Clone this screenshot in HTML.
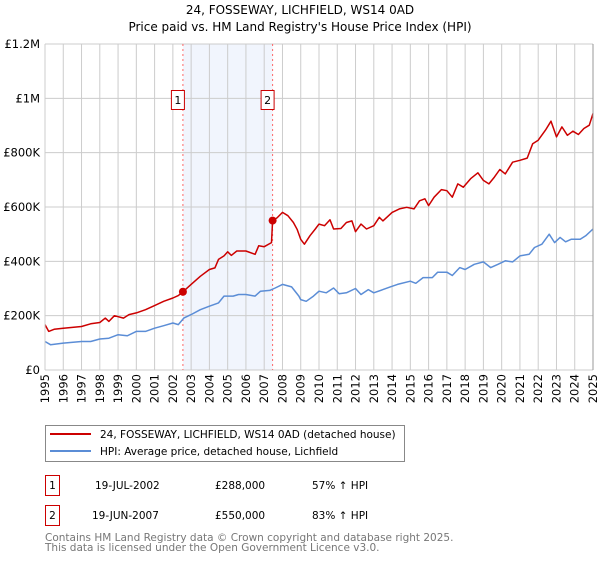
<!DOCTYPE html>
<html><head><meta charset="utf-8"><style>
body{margin:0;background:#fff;font-family:"Liberation Sans","DejaVu Sans",sans-serif;}
svg text{font-family:"DejaVu Sans","Liberation Sans",sans-serif;}
</style></head><body>
<svg id="chart" width="600" height="560" viewBox="0 0 600 560" xmlns="http://www.w3.org/2000/svg">
<text x="300" y="14" text-anchor="middle" font-size="12" fill="#000">24, FOSSEWAY, LICHFIELD, WS14 0AD</text>
<text x="300" y="31" text-anchor="middle" font-size="12" fill="#000">Price paid vs. HM Land Registry's House Price Index (HPI)</text>
<g id="grid"></g><g id="marks"></g><g id="axes"></g>
<g>
<rect x="45.5" y="425.5" width="359" height="36" fill="#fff" stroke="#888"/>
<line x1="50" y1="434" x2="91" y2="434" stroke="#cc0000" stroke-width="2"/>
<text x="100" y="438" font-size="10.5">24, FOSSEWAY, LICHFIELD, WS14 0AD (detached house)</text>
<line x1="50" y1="451" x2="91" y2="451" stroke="#5b8dd6" stroke-width="2"/>
<text x="100" y="455" font-size="10.5">HPI: Average price, detached house, Lichfield</text>
</g>
<g font-size="10.5">
<rect x="45.5" y="475.5" width="14" height="20" fill="#fff" stroke="#cc0000"/>
<text x="52.5" y="489" text-anchor="middle">1</text>
<text x="95" y="489">19-JUL-2002</text>
<text x="215" y="489">£288,000</text>
<text x="312" y="489">57% ↑ HPI</text>
<rect x="45.5" y="505.5" width="14" height="20" fill="#fff" stroke="#cc0000"/>
<text x="52.5" y="519" text-anchor="middle">2</text>
<text x="92" y="519">19-JUN-2007</text>
<text x="215" y="519">£550,000</text>
<text x="312" y="519">83% ↑ HPI</text>
</g>
<text x="45" y="541" font-size="10.5" fill="#777">Contains HM Land Registry data © Crown copyright and database right 2025.</text>
<text x="45" y="551" font-size="10.5" fill="#777">This data is licensed under the Open Government Licence v3.0.</text>
</svg>
<script>
const priceYears=[1995,1995.2,1995.5,1996,1997,1997.5,1998,1998.3,1998.5,1998.8,1999.3,1999.6,2000,2000.5,2001,2001.5,2002,2002.3,2002.55,2003,2003.5,2004,2004.3,2004.5,2004.8,2005,2005.2,2005.5,2006,2006.5,2006.7,2007,2007.4,2007.46,2007.7,2008,2008.3,2008.6,2008.8,2009,2009.2,2009.5,2009.8,2010,2010.3,2010.6,2010.8,2011.2,2011.5,2011.8,2012,2012.3,2012.6,2013,2013.3,2013.5,2014,2014.4,2014.8,2015.2,2015.5,2015.8,2016,2016.3,2016.7,2017,2017.3,2017.6,2017.9,2018.3,2018.7,2019,2019.3,2019.6,2019.9,2020.2,2020.6,2021,2021.4,2021.7,2022,2022.4,2022.7,2023,2023.3,2023.6,2023.9,2024.2,2024.5,2024.8,2025];
const priceValues=[167,142,150,154,160,170,175,191,179,200,191,204,210,222,237,253,265,274,288,315,345,370,376,407,420,435,422,438,438,426,457,454,469,550,560,580,568,543,518,481,463,494,519,537,531,553,519,521,543,549,509,537,519,531,562,549,580,593,599,593,623,630,605,636,664,660,636,685,673,704,726,698,685,710,738,722,765,772,780,833,846,883,916,858,895,864,879,867,889,901,944];
const hpiYears=[1995,1995.3,1996,1997,1997.5,1998,1998.5,1999,1999.5,2000,2000.5,2001,2001.5,2002,2002.3,2002.6,2003,2003.5,2004,2004.5,2004.8,2005.3,2005.6,2006,2006.5,2006.8,2007.3,2007.6,2008,2008.5,2008.9,2009,2009.3,2009.7,2010,2010.4,2010.8,2011.1,2011.5,2012,2012.3,2012.7,2013,2013.5,2013.9,2014.3,2015,2015.3,2015.7,2016.2,2016.5,2017,2017.3,2017.7,2018,2018.5,2019,2019.4,2019.8,2020.2,2020.6,2021,2021.5,2021.8,2022.2,2022.6,2022.9,2023.2,2023.5,2023.8,2024.3,2024.6,2025];
const hpiValues=[105,93,99,105,105,114,117,130,126,142,142,154,163,173,167,191,204,222,235,247,272,272,278,278,272,290,293,302,315,306,272,259,253,272,290,284,302,281,284,300,278,296,284,296,306,315,327,319,340,340,360,360,348,377,370,389,398,377,389,402,398,420,426,451,463,500,469,488,472,481,481,494,519];
const saleYears=[2002.55,2007.46];
const saleValues=[288,550];
const saleLabels=["1","2"];
const yTicks=[0,200,400,600,800,1000,1200];
const yTickLabels=["£0","£200K","£400K","£600K","£800K","£1M","£1.2M"];
const xTicks=[1995,1996,1997,1998,1999,2000,2001,2002,2003,2004,2005,2006,2007,2008,2009,2010,2011,2012,2013,2014,2015,2016,2017,2018,2019,2020,2021,2022,2023,2024,2025];

const L=45,R=593,T=44,B=370;
const xs=y=>L+(y-1995)/30*(R-L);
const ys=v=>B-v/1200*(B-T);
const NS="http://www.w3.org/2000/svg";
function mk(tag,attrs,parent){const e=document.createElementNS(NS,tag);for(const k in attrs)e.setAttribute(k,attrs[k]);parent.appendChild(e);return e;}
const grid=document.getElementById('grid'),marks=document.getElementById('marks'),axes=document.getElementById('axes');
// shaded band
const band=mk('rect',{x:xs(saleYears[0]),y:T,width:xs(saleYears[1])-xs(saleYears[0]),height:B-T,fill:'#eef3fc',opacity:'0.8'},grid);


xTicks.forEach(t=>{const l=mk('line',{x1:xs(t),x2:xs(t),y1:T,y2:B,stroke:'#cccccc','stroke-width':1},grid);


const tx=mk('text',{x:0,y:0,'font-size':'11.5','text-anchor':'end',transform:`translate(${xs(t)+4},${B+4}) rotate(-90)`},axes);tx.textContent=t;

});
yTicks.forEach((t,i)=>{const l=mk('line',{x1:L,x2:R,y1:ys(t),y2:ys(t),stroke:'#cccccc','stroke-width':1},grid);


const tx=mk('text',{x:L-5,y:ys(t)+4,'font-size':'11.5','text-anchor':'end'},axes);tx.textContent=yTickLabels[i];

});
saleYears.forEach((y,i)=>{const l=mk('line',{x1:xs(y),x2:xs(y),y1:T,y2:B,stroke:'#ff6666','stroke-width':1,'stroke-dasharray':'2,3'},marks);


const r=mk('rect',{x:xs(y)-11.5,y:90.5,width:13,height:19,fill:'#fff',stroke:'#cc0000'},marks);


const tx=mk('text',{x:xs(y)-5,y:104,'font-size':'11','text-anchor':'middle'},marks);tx.textContent=saleLabels[i];

});
function path(xa,va,color,name){const d=xa.map((y,i)=>(i?'L':'M')+xs(y).toFixed(1)+','+ys(va[i]).toFixed(1)).join('');
const p=mk('path',{d:d,fill:'none',stroke:color,'stroke-width':1.5,'stroke-linejoin':'round'},marks);

}
path(hpiYears,hpiValues,'#5b8dd6','hpi-line');
path(priceYears,priceValues,'#cc0000','price-line');
saleYears.forEach((y,i)=>{const c=mk('circle',{cx:xs(y),cy:ys(saleValues[i]),r:4,fill:'#cc0000'},marks);

});
const ax=mk('line',{x1:L,x2:L,y1:T,y2:B,stroke:'#cccccc'},axes);


const ax2=mk('line',{x1:R,x2:R,y1:T,y2:B,stroke:'#999'},axes);


</script>
</body></html>
